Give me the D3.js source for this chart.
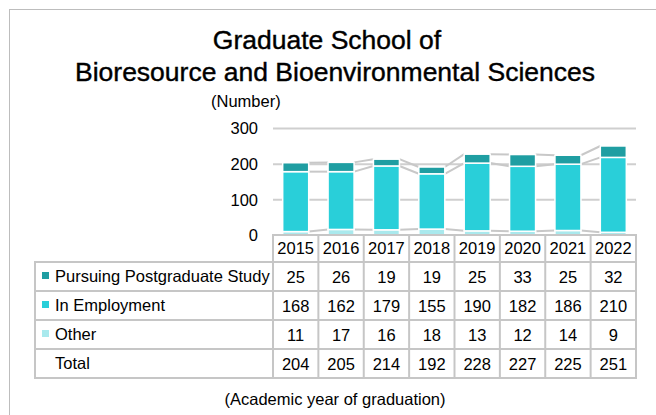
<!DOCTYPE html>
<html>
<head>
<meta charset="utf-8">
<script src="https://cdn.jsdelivr.net/npm/d3@7"></script>
<style>
  html, body { margin: 0; padding: 0; background: #fff; }
  svg { display: block; font-family: "Liberation Sans", Arial, sans-serif; }
</style>
</head>
<body>
<div id="chart"></div>
<script>
// data
var years = ["2015", "2016", "2017", "2018", "2019", "2020", "2021", "2022"];
var postgrad = [25, 26, 19, 19, 25, 33, 25, 32];
var employment = [168, 162, 179, 155, 190, 182, 186, 210];
var other = [11, 17, 16, 18, 13, 12, 14, 9];
var totals = [204, 205, 214, 192, 228, 227, 225, 251];
var yTicks = [0, 100, 200, 300];

var colors = {"Pursuing Postgraduate Study": "#1f9ea2", "In Employment": "#29cfd9", "Other": "#a9e9ed"};
var fs = 16.5;

var width = 656, height = 415;
var svg = d3.select("#chart").append("svg")
  .attr("width", width).attr("height", height);

// outer frame, runs off the right and bottom edge
svg.append("rect")
  .attr("x", 9.5).attr("y", 9.5)
  .attr("width", 700).attr("height", 500)
  .attr("fill", "none").attr("stroke", "#bdbdbd").attr("stroke-width", 1);

// title
var title = svg.append("text")
  .attr("text-anchor", "middle")
  .attr("font-size", 26.5)
  .attr("fill", "#000").attr("stroke", "#000").attr("stroke-width", 0.4);
title.append("tspan").attr("x", 327).attr("y", 49).text("Graduate School of");
title.append("tspan").attr("x", 335).attr("y", 81).text("Bioresource and Bioenvironmental Sciences");

var x = d3.scaleBand().domain(years).range([273, 636]).paddingInner(0).paddingOuter(0);
var y = d3.scaleLinear().domain([0, 300]).range([235.5, 128.5]);
var barW = 26;

svg.append("text")
  .attr("x", 211).attr("y", 107)
  .attr("font-size", fs).attr("fill", "#000")
  .text("(Number)");

// gridlines
svg.append("g").selectAll("line")
  .data(yTicks.filter(function(d) { return d > 0; }))
  .enter().append("line")
  .attr("x1", 273).attr("x2", 636)
  .attr("y1", function(d) { return y(d); })
  .attr("y2", function(d) { return y(d); })
  .attr("stroke", "#cfcfcf").attr("stroke-width", 2);

// y axis labels
var yAxis = svg.append("g")
  .attr("transform", "translate(266,0)")
  .call(d3.axisLeft(y).tickValues(yTicks).tickSize(0).tickPadding(8));
yAxis.select(".domain").remove();
yAxis.selectAll("text").attr("font-size", fs).attr("fill", "#000")
  .attr("font-family", "Liberation Sans, Arial, sans-serif");

// stacked values
var rows = years.map(function(yr, i) {
  return {year: yr, "Other": other[i], "In Employment": employment[i], "Pursuing Postgraduate Study": postgrad[i]};
});
var stack = d3.stack().keys(["Other", "In Employment", "Pursuing Postgraduate Study"]);
var stacked = stack(rows);

// series lines between bars
var lineG = svg.append("g");
stacked.forEach(function(s) {
  for (var i = 0; i < s.length - 1; i++) {
    var x1 = x(years[i]) + x.bandwidth() / 2 + barW / 2;
    var x2 = x(years[i + 1]) + x.bandwidth() / 2 - barW / 2;
    lineG.append("line")
      .attr("x1", x1).attr("x2", x2)
      .attr("y1", y(s[i][1])).attr("y2", y(s[i + 1][1]))
      .attr("stroke", "#c8c8c8").attr("stroke-width", 2);
  }
});

// bars
svg.append("g").selectAll("g")
  .data(stacked)
  .enter().append("g")
  .attr("fill", function(d) { return colors[d.key]; })
  .selectAll("rect")
  .data(function(d) { return d; })
  .enter().append("rect")
  .attr("x", function(d) { return x(d.data.year) + x.bandwidth() / 2 - barW / 2; })
  .attr("y", function(d) { return y(d[1]); })
  .attr("width", barW)
  .attr("height", function(d) { return y(d[0]) - y(d[1]); })
  .attr("stroke", "#fff").attr("stroke-width", 1.5);

// data table
var rowTop = 262, rowH = 29, labelLeft = 35;
var tableRows = [
  {name: "Pursuing Postgraduate Study", values: postgrad},
  {name: "In Employment", values: employment},
  {name: "Other", values: other},
  {name: "Total", values: totals}
];
var gridColor = "#c6c6c6";
var tg = svg.append("g");

// header row (years)
tg.append("rect")
  .attr("x", 273).attr("y", 235).attr("width", 363).attr("height", rowTop - 235)
  .attr("fill", "none").attr("stroke", gridColor).attr("stroke-width", 2);
years.forEach(function(yr) {
  tg.append("line")
    .attr("x1", x(yr)).attr("x2", x(yr))
    .attr("y1", 235).attr("y2", rowTop + rowH * tableRows.length)
    .attr("stroke", gridColor).attr("stroke-width", 2);
  tg.append("text")
    .attr("x", x(yr) + x.bandwidth() / 2).attr("y", 248.5).attr("dy", "0.35em")
    .attr("text-anchor", "middle").attr("font-size", fs).attr("fill", "#000")
    .text(yr);
});

tg.append("rect")
  .attr("x", labelLeft).attr("y", rowTop)
  .attr("width", 636 - labelLeft).attr("height", rowH * tableRows.length)
  .attr("fill", "none").attr("stroke", gridColor).attr("stroke-width", 2);

tableRows.forEach(function(r, i) {
  var cy = rowTop + rowH * i + rowH / 2;
  if (i > 0) {
    tg.append("line")
      .attr("x1", labelLeft).attr("x2", 636)
      .attr("y1", rowTop + rowH * i).attr("y2", rowTop + rowH * i)
      .attr("stroke", gridColor).attr("stroke-width", 2);
  }
  if (colors[r.name]) {
    tg.append("rect")
      .attr("x", 42).attr("y", cy - 4.5).attr("width", 7).attr("height", 7)
      .attr("fill", colors[r.name]);
  }
  tg.append("text")
    .attr("x", 55).attr("y", cy).attr("dy", "0.35em")
    .attr("font-size", fs).attr("fill", "#000")
    .text(r.name);
  r.values.forEach(function(v, j) {
    tg.append("text")
      .attr("x", x(years[j]) + x.bandwidth() / 2).attr("y", cy + 1).attr("dy", "0.35em")
      .attr("text-anchor", "middle").attr("font-size", fs).attr("fill", "#000")
      .text(v);
  });
});

svg.append("text")
  .attr("x", 335).attr("y", 405)
  .attr("text-anchor", "middle").attr("font-size", fs).attr("fill", "#000")
  .text("(Academic year of graduation)");
</script>
</body>
</html>
